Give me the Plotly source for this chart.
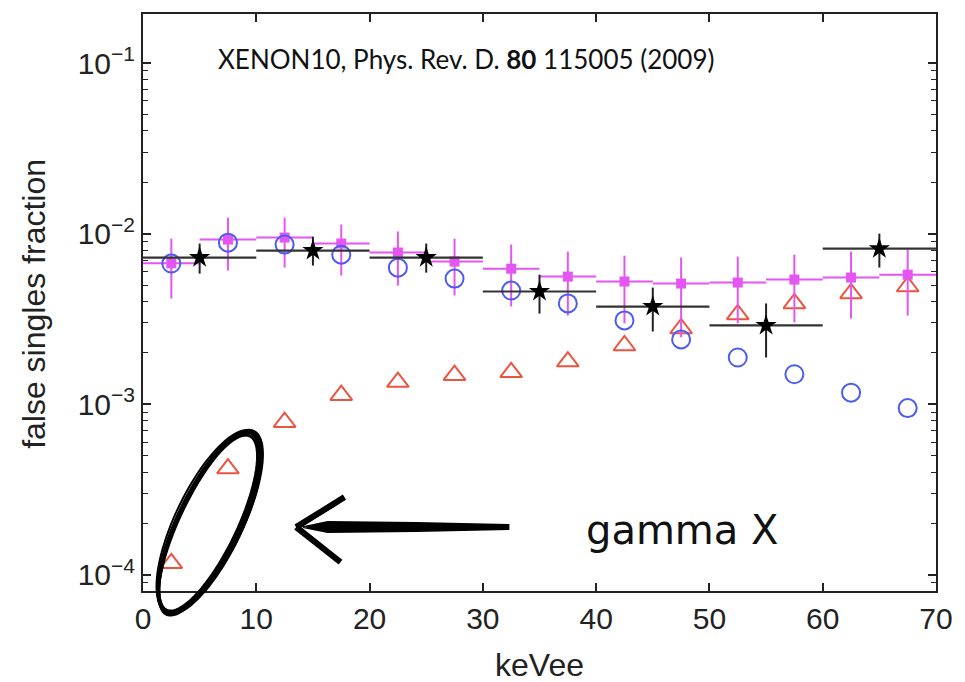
import numpy as np
import plotly.graph_objects as go

# ---------------- data ----------------
x_bins = [2.5, 7.5, 12.5, 17.5, 22.5, 27.5, 32.5, 37.5, 42.5, 47.5, 52.5, 57.5, 62.5, 67.5]

gamma_x = [1.17e-4, 4.2e-4, 7.85e-4, 1.13e-3, 1.35e-3, 1.48e-3, 1.54e-3,
           1.78e-3, 2.21e-3, 2.78e-3, 3.36e-3, 3.9e-3, 4.46e-3, 4.9e-3]

circles = [6.68e-3, 8.85e-3, 8.63e-3, 7.53e-3, 6.32e-3, 5.45e-3, 4.64e-3,
           3.9e-3, 3.1e-3, 2.4e-3, 1.88e-3, 1.5e-3, 1.17e-3, 9.5e-4]

squares = [6.7e-3, 9.23e-3, 9.48e-3, 8.75e-3, 7.75e-3, 6.86e-3, 6.23e-3,
           5.6e-3, 5.24e-3, 5.1e-3, 5.17e-3, 5.38e-3, 5.53e-3, 5.75e-3]
squares_hi = [9.35e-3, 1.24e-2, 1.24e-2, 1.13e-2, 1.03e-2, 9.35e-3, 8.63e-3,
              7.85e-3, 7.43e-3, 7.24e-3, 7.33e-3, 7.53e-3, 7.85e-3, 8.06e-3]
squares_lo = [4.17e-3, 6.08e-3, 6.33e-3, 5.68e-3, 4.96e-3, 4.34e-3, 3.74e-3,
              3.31e-3, 2.98e-3, 2.47e-3, 2.98e-3, 3.02e-3, 3.18e-3, 3.31e-3]

x_data = [5, 15, 25, 35, 45, 55, 65]
data_vals = [7.24e-3, 7.96e-3, 7.24e-3, 4.58e-3, 3.74e-3, 2.9e-3, 8.17e-3]
data_hi = [8.75e-3, 9.6e-3, 8.75e-3, 5.75e-3, 4.83e-3, 3.9e-3, 1.0e-2]
data_lo = [5.83e-3, 6.5e-3, 5.91e-3, 3.4e-3, 2.67e-3, 1.88e-3, 6.33e-3]

x_ticks = [0, 10, 20, 30, 40, 50, 60, 70]
y_ticks = [1e-4, 1e-3, 1e-2, 1e-1]
y_tick_text = ["10<sup>\u22124</sup>", "10<sup>\u22123</sup>", "10<sup>\u22122</sup>", "10<sup>\u22121</sup>"]

title_text = "XENON10, Phys. Rev. D. <b>80</b> 115005 (2009)"
note_text = "gamma X"

# ---------------- figure ----------------
W, H = 965, 682
L, R, T, B = 143, 946, 13, 591

MAG = "#e455f2"
BLUE = "#4b5cf2"
RED = "#ec5442"

fig = go.Figure()

fig.add_trace(go.Scatter(
    x=x_bins, y=gamma_x, mode="markers",
    marker=dict(symbol="triangle-up-open", size=19, color=RED, line=dict(width=2, color=RED)),
    showlegend=False))

sq_plus = [h - v for h, v in zip(squares_hi, squares)]
sq_minus = [v - l for v, l in zip(squares, squares_lo)]
fig.add_trace(go.Scatter(
    x=x_bins, y=squares, mode="markers",
    marker=dict(symbol="square", size=10, color=MAG),
    error_y=dict(type="data", array=sq_plus, arrayminus=sq_minus, symmetric=False,
                 color=MAG, thickness=2, width=0),
    error_x=dict(type="constant", value=2.5, color=MAG, thickness=2, width=0),
    showlegend=False))

fig.add_trace(go.Scatter(
    x=x_bins, y=circles, mode="markers",
    marker=dict(symbol="circle-open", size=18, color=BLUE, line=dict(width=2, color=BLUE)),
    showlegend=False))

d_plus = [h - v for h, v in zip(data_hi, data_vals)]
d_minus = [v - l for v, l in zip(data_vals, data_lo)]
fig.add_trace(go.Scatter(
    x=x_data, y=data_vals, mode="markers",
    marker=dict(symbol="star", size=16, color="black"),
    error_y=dict(type="data", array=d_plus, arrayminus=d_minus, symmetric=False,
                 color="#222222", thickness=2, width=0),
    error_x=dict(type="constant", value=5, color="#333333", thickness=2.2, width=0),
    showlegend=False))

minor_vals = [m * 10.0 ** e for e in range(-5, 0) for m in range(2, 10)]

tick_font = dict(family="Liberation Sans", size=30, color="#222222")
title_font = dict(family="Liberation Sans", size=32, color="#222222")

fig.update_xaxes(
    range=[0, 70], tickvals=x_ticks, ticktext=[str(v) for v in x_ticks],
    ticks="inside", ticklen=8, tickwidth=1.5, tickcolor="#222",
    showline=True, linewidth=2, linecolor="#222", mirror="allticks",
    showgrid=False, zeroline=False, tickfont=tick_font)

fig.update_yaxes(
    type="log", range=[np.log10(8.05e-5), np.log10(0.1937)],
    tickvals=y_ticks, ticktext=y_tick_text,
    ticks="inside", ticklen=8, tickwidth=1.5, tickcolor="#222",
    minor=dict(tickvals=minor_vals, ticks="inside", ticklen=5, tickwidth=1.2, tickcolor="#222"),
    showline=True, linewidth=2, linecolor="#222", mirror="allticks",
    showgrid=False, zeroline=False, tickfont=tick_font)

def px(X):
    return (X - L) / (R - L)

def py(Y):
    return (B - Y) / (B - T)

annotations = [
    dict(text=title_text, x=px(470), y=py(58), xref="paper", yref="paper",
         showarrow=False, xanchor="center", yanchor="middle",
         font=dict(family="Lato", size=26, color="#111")),
    dict(text="keVee", x=px(545), y=py(665), xref="paper", yref="paper",
         showarrow=False, xanchor="center", yanchor="middle", font=title_font),
    dict(text="false singles fraction", x=px(33), y=py(303), xref="paper", yref="paper",
         showarrow=False, textangle=-90, xanchor="center", yanchor="middle", font=title_font),
    dict(text=note_text, x=px(689), y=py(530), xref="paper", yref="paper",
         showarrow=False, xanchor="center", yanchor="middle",
         font=dict(family="DejaVu Sans", size=40, color="#111")),
]

# hand-drawn ellipse (several slightly offset strokes)
shapes = []
cx, cy, a, b = 210, 522, 99, 31
ang = np.arctan2(-177, 86)
t = np.linspace(0, 2 * np.pi, 90)
for k, (da, db, dx, dy, w) in enumerate([(0, 0, 0, 0, 4), (2, 1.5, 1, 0, 3), (-2, -1.5, -1, 1, 3),
                                          (1, 3, 0, -1, 2), (3, -1, 1, 1, 2)]):
    ex = (a + da) * np.cos(t)
    ey = (b + db) * np.sin(t)
    X = cx + dx + ex * np.cos(ang) - ey * np.sin(ang)
    Y = cy + dy + ex * np.sin(ang) + ey * np.cos(ang)
    path = "M " + " L ".join(f"{px(xx):.5f},{py(yy):.5f}" for xx, yy in zip(X, Y)) + " Z"
    shapes.append(dict(type="path", path=path, xref="paper", yref="paper",
                       line=dict(color="black", width=w)))

# hand-drawn arrow
shaft = [(513, 525), (420, 523), (330, 522), (305, 527), (330, 532), (420, 531), (513, 529)]
path = "M " + " L ".join(f"{px(xx):.5f},{py(yy):.5f}" for xx, yy in shaft) + " Z"
shapes.append(dict(type="path", path=path, xref="paper", yref="paper",
                   fillcolor="black", line=dict(color="black", width=2)))
for (x0, y0, x1, y1, w) in [(298, 527, 347, 497, 6), (298, 527, 343, 562, 6),
                            (302, 526, 340, 503, 3), (302, 528, 337, 556, 3)]:
    shapes.append(dict(type="line", x0=px(x0), y0=py(y0), x1=px(x1), y1=py(y1),
                       xref="paper", yref="paper", line=dict(color="black", width=w)))

fig.update_layout(
    width=W, height=H,
    margin=dict(l=L, r=W - R, t=T, b=H - B),
    paper_bgcolor="white", plot_bgcolor="white",
    annotations=annotations, shapes=shapes,
    showlegend=False)

fig.write_html("out.html")
